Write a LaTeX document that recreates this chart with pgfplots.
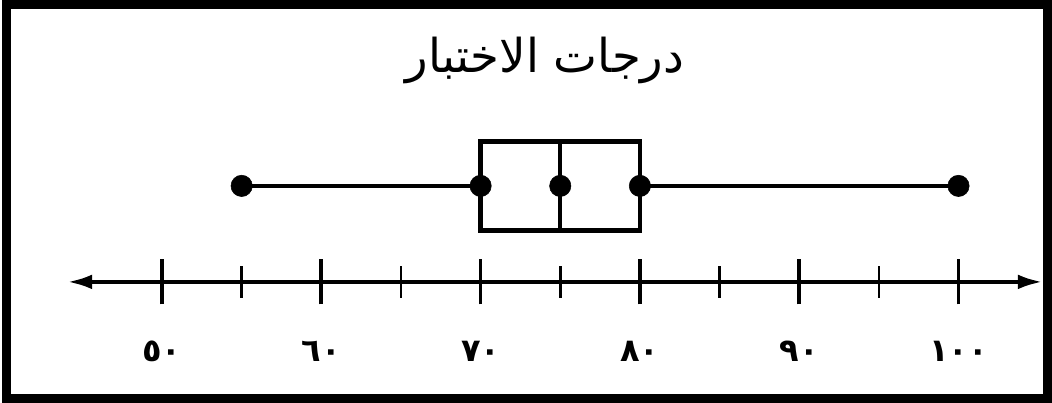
\documentclass[border=0pt]{standalone}
\usepackage{fontspec}
\usepackage{pgfplots}
\pgfplotsset{compat=1.18}
\usepgfplotslibrary{statistics}
\usetikzlibrary{arrows.meta}
\TeXXeTstate=1
\newfontfamily\arabicfont[Script=Arabic]{DejaVu Sans}

\begin{document}
\begin{tikzpicture}
\begin{axis}[
  scale only axis,
  width=789pt, height=302.25pt,
  xmin=39.83, xmax=105.87,
  ymin=-121, ymax=282,
  axis x line=middle, axis y line=none,
  x axis line style={draw=none},
  xtick={50,60,70,80,90,100},
  xticklabels={٥٠,٦٠,٧٠,٨٠,٩٠,١٠٠},
  minor xtick={55,65,75,85,95},
  tick align=center,
  major tick length=33.75pt,
  minor tick length=24pt,
  every major tick/.style={line width=2.8pt,black},
  every minor tick/.style={line width=2pt,black},
  xticklabel style={anchor=center,yshift=-35pt,
    font=\arabicfont\bfseries\fontsize{24}{28}\selectfont},
  clip=false,
]
% number line
\addplot[black,line width=2.6pt,{Latex[length=18pt,width=11pt]}-{Latex[length=18pt,width=11pt]}]
  coordinates {(44.1,0) (105.24,0)};
% box plot of test scores
\addplot[black,line width=3.2pt,
  boxplot prepared={
    lower whisker=55, lower quartile=70, median=75,
    upper quartile=80, upper whisker=100,
    draw direction=x, draw position=96,
    box extend=89, whisker extend=0,
    every whisker/.style={line width=3pt},
  }] coordinates {};
% five-number summary points
\addplot[only marks,mark=*,mark size=8pt,black]
  coordinates {(55,96) (70,96) (75,96) (80,96) (100,96)};
% title
\node[font=\arabicfont\fontsize{35}{42}\selectfont] at (axis cs:74.04,221)
  {\beginR درجات الاختبار\endR};
% frame
\draw[line width=6.5pt] (rel axis cs:0.006,0.011) rectangle (rel axis cs:0.9958,0.989);
\end{axis}
\end{tikzpicture}
\end{document}
